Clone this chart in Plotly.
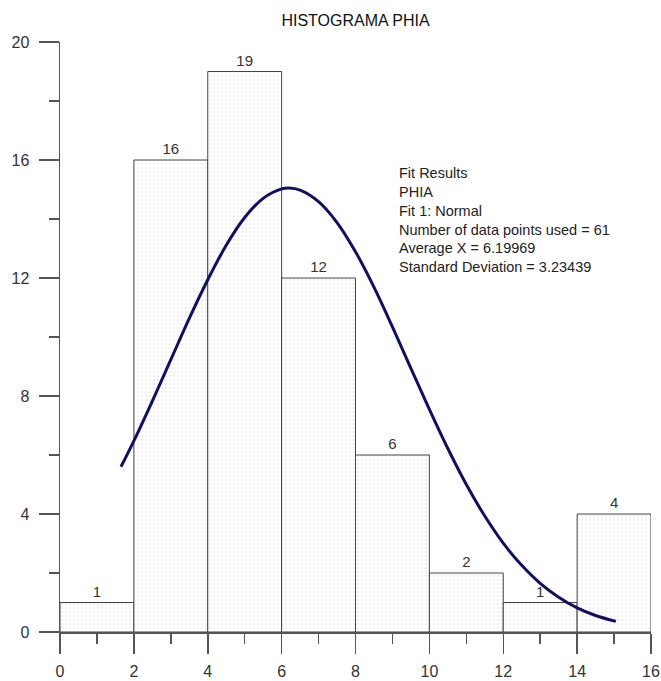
import plotly.graph_objects as go

# Histogram data
bin_centers = [1, 3, 5, 7, 9, 11, 13, 15]
counts = [1, 16, 19, 12, 6, 2, 1, 4]
bin_width = 2

# Fitted normal curve
curve_x = [1.65, 2.0, 2.5, 3.0, 3.5, 4.0, 4.5, 5.0, 5.5, 6.0, 6.2, 6.5, 7.0, 7.5,
           8.0, 8.5, 9.0, 9.5, 10.0, 10.5, 11.0, 11.5, 12.0, 12.5, 13.0, 13.5,
           14.0, 14.5, 15.05]
curve_y = [5.60, 6.48, 7.83, 9.23, 10.63, 11.94, 13.11, 14.05, 14.70, 15.02, 15.05,
           14.98, 14.59, 13.88, 12.89, 11.69, 10.34, 8.94, 7.55, 6.22, 5.00, 3.93,
           3.01, 2.26, 1.65, 1.18, 0.82, 0.56, 0.36]

x_ticks = [0, 2, 4, 6, 8, 10, 12, 14, 16]
y_ticks = [0, 4, 8, 12, 16, 20]

fit_lines = ["Fit Results", "PHIA", "Fit 1: Normal",
             "Number of data points used = 61",
             "Average X = 6.19969", "Standard Deviation = 3.23439"]

FONT = "Liberation Sans, Arial, sans-serif"
AXC = "#555555"

W, H = 661, 681
ML, MT, MR, MB = 60, 42, 10, 49

fig = go.Figure()
fig.add_trace(go.Bar(
    x=bin_centers, y=counts, width=bin_width,
    marker=dict(color="white", line=dict(color="#444444", width=1),
                pattern=dict(shape=".", fgcolor="#b0b0b0", bgcolor="white",
                             size=4, solidity=0.12)),
    text=[str(c) for c in counts], textposition="outside",
    textfont=dict(family=FONT, size=15, color="#333333"),
    cliponaxis=False, showlegend=False, hoverinfo="skip",
))
fig.add_trace(go.Scatter(
    x=curve_x, y=curve_y, mode="lines", line=dict(color="#10105f", width=3, shape="spline"),
    showlegend=False, hoverinfo="skip",
))

fig.add_annotation(
    xref="paper", yref="paper", x=(397 - 60) / 591, y=(632 - 163) / 590,
    xanchor="left", yanchor="top", align="left", showarrow=False,
    text="<br>".join(fit_lines),
    font=dict(family=FONT, size=14.5, color="#222222"),
)

fig.update_layout(
    width=W, height=H,
    margin=dict(l=ML, r=MR, t=MT, b=MB, autoexpand=False),
    paper_bgcolor="white", plot_bgcolor="white",
    bargap=0,
    title=dict(text="HISTOGRAMA PHIA", x=355.5 / W, xanchor="center",
               xref="container", yref="container",
               y=1 - 20 / H, yanchor="middle",
               font=dict(family=FONT, size=16, color="#111111")),
    xaxis=dict(range=[0, 16], tickvals=x_ticks, showgrid=False, zeroline=False,
               automargin=False,
               showline=True, linecolor=AXC, linewidth=1.5,
               ticks="outside", ticklen=20, tickwidth=1.5, tickcolor=AXC,
               minor=dict(dtick=1, ticks="outside", ticklen=10, tickwidth=1.5, tickcolor=AXC),
               tickfont=dict(family=FONT, size=16, color="#333333"),
               ticklabelstandoff=4),
    yaxis=dict(range=[0, 20], tickvals=y_ticks, showgrid=False, zeroline=False,
               automargin=False,
               showline=True, linecolor=AXC, linewidth=1.5,
               ticks="outside", ticklen=20, tickwidth=1.5, tickcolor=AXC,
               minor=dict(dtick=2, ticks="outside", ticklen=10, tickwidth=1.5, tickcolor=AXC),
               tickfont=dict(family=FONT, size=16, color="#333333"),
               ticklabelstandoff=6),
)

fig.write_html(
    "out.html",
    config={"displayModeBar": False, "staticPlot": True},
    post_script="document.body.style.margin='0';document.body.style.overflow='hidden';",
)
